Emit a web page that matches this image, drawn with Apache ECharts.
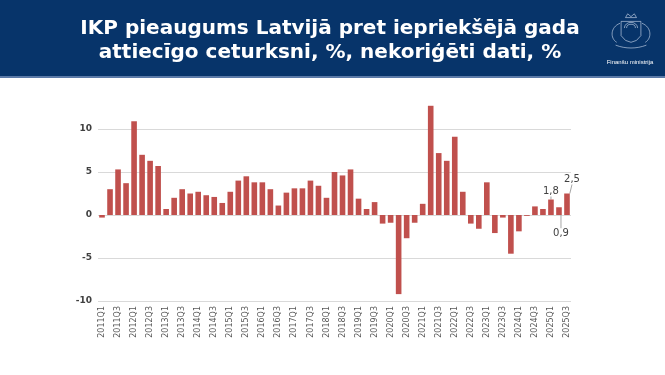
<!DOCTYPE html>
<html>
<head>
<meta charset="utf-8">
<script src="https://cdn.jsdelivr.net/npm/echarts@6/dist/echarts.min.js"></script>
<style>
html,body{margin:0;padding:0;background:#fff;}
#c{width:665px;height:375px;}
</style>
</head>
<body>
<div id="c"></div>
<script>
var titleLines = ['IKP pieaugums Latvijā pret iepriekšējā gada', 'attiecīgo ceturksni, %, nekoriģēti dati, %'];
var logoText = 'Finanšu ministrija';

var categories = [
 '2011Q1','2011Q2','2011Q3','2011Q4','2012Q1','2012Q2','2012Q3','2012Q4',
 '2013Q1','2013Q2','2013Q3','2013Q4','2014Q1','2014Q2','2014Q3','2014Q4',
 '2015Q1','2015Q2','2015Q3','2015Q4','2016Q1','2016Q2','2016Q3','2016Q4',
 '2017Q1','2017Q2','2017Q3','2017Q4','2018Q1','2018Q2','2018Q3','2018Q4',
 '2019Q1','2019Q2','2019Q3','2019Q4','2020Q1','2020Q2','2020Q3','2020Q4',
 '2021Q1','2021Q2','2021Q3','2021Q4','2022Q1','2022Q2','2022Q3','2022Q4',
 '2023Q1','2023Q2','2023Q3','2023Q4','2024Q1','2024Q2','2024Q3','2024Q4',
 '2025Q1','2025Q2','2025Q3'
];

var growth = [
 -0.3, 3.0, 5.3, 3.7, 10.9, 7.0, 6.3, 5.7,
 0.7, 2.0, 3.0, 2.5, 2.7, 2.3, 2.1, 1.4,
 2.7, 4.0, 4.5, 3.8, 3.8, 3.0, 1.1, 2.6,
 3.1, 3.1, 4.0, 3.4, 2.0, 5.0, 4.6, 5.3,
 1.9, 0.7, 1.5, -1.0, -0.9, -9.2, -2.7, -0.9,
 1.3, 12.7, 7.2, 6.3, 9.1, 2.7, -1.0, -1.6,
 3.8, -2.1, -0.3, -4.5, -1.9, -0.1, 1.0, 0.7,
 1.8, 0.9, 2.5
];

var labelledIdx = [56, 57, 58];
var yTicks = [-10, -5, 0, 5, 10];

var labelMoves = {56: [0, 0], 57: [2, 34], 58: [5, -6]};

var barData = growth.map(function (v, i) {
  var d = {value: v};
  if (labelledIdx.indexOf(i) >= 0) {
    d.label = {show: true, position: 'top'};
  }
  return d;
});

var chart = echarts.init(document.getElementById('c'), null, {renderer: 'canvas'});

var logoStroke = 'rgba(210,222,240,0.75)';

var option = {
  animation: false,
  backgroundColor: '#ffffff',
  grid: {left: 98, right: 94, top: 86, bottom: 74, containLabel: false},
  xAxis: {
    type: 'category',
    data: categories,
    axisLine: {show: false, onZero: false},
    axisTick: {show: false},
    axisLabel: {
      interval: 1,
      rotate: 90,
      margin: 5,
      fontSize: 8,
      fontFamily: 'DejaVu Sans',
      color: '#595959'
    }
  },
  yAxis: {
    type: 'value',
    min: -10,
    max: 15,
    interval: 5,
    axisLine: {show: false},
    axisTick: {show: false},
    axisLabel: {
      margin: 6,
      fontSize: 9,
      fontWeight: 'bold',
      fontFamily: 'DejaVu Sans',
      color: '#404040',
      formatter: function (v) { return yTicks.indexOf(v) >= 0 ? String(v) : ''; }
    },
    splitLine: {
      lineStyle: {
        color: ['#d9d9d9', '#d9d9d9', '#d9d9d9', '#d9d9d9', '#d9d9d9', 'rgba(0,0,0,0)'],
        width: 1
      }
    }
  },
  series: [{
    type: 'bar',
    data: barData,
    barCategoryGap: '30%',
    itemStyle: {color: '#c0504d'},
    label: {
      show: false,
      fontSize: 10,
      fontFamily: 'DejaVu Sans',
      color: '#404040',
      distance: 3,
      formatter: function (p) { return Number(p.value).toFixed(1).replace('.', ','); }
    },
    labelLine: {show: true, lineStyle: {color: '#a6a6a6', width: 1}},
    labelLayout: function (params) {
      var m = labelMoves[params.dataIndex];
      if (!m) return {};
      return {dx: m[0], dy: m[1]};
    }
  }],
  graphic: [
    {type: 'rect', shape: {x: 0, y: 0, width: 665, height: 77}, style: {fill: '#07346a'}, z: 0},
    {type: 'rect', shape: {x: 0, y: 76, width: 665, height: 2}, style: {fill: '#5b7aa8'}, z: 0},
    {type: 'text', x: 330, y: 29, style: {text: titleLines[0], fill: '#ffffff', font: 'bold 20px "DejaVu Sans"', textAlign: 'center', textVerticalAlign: 'middle'}, z: 2},
    {type: 'text', x: 330, y: 53, style: {text: titleLines[1], fill: '#ffffff', font: 'bold 20px "DejaVu Sans"', textAlign: 'center', textVerticalAlign: 'middle'}, z: 2},
    {type: 'text', x: 630, y: 62, style: {text: logoText, fill: '#ffffff', font: '6px "Liberation Sans"', textAlign: 'center', textVerticalAlign: 'middle'}, z: 2},
    {type: 'group', x: 631, y: 29, scaleX: 1.1, scaleY: 0.95, z: 2, children: [
      {type: 'polyline', shape: {points: [[-9, -8], [-9, 7], [-5, 12], [0, 14], [5, 12], [9, 7], [9, -8], [-9, -8]]}, style: {fill: 'none', stroke: logoStroke, lineWidth: 0.8}},
      {type: 'arc', shape: {cx: 0, cy: -1, r: 6, startAngle: Math.PI, endAngle: 2 * Math.PI}, style: {stroke: logoStroke, lineWidth: 0.8}},
      {type: 'arc', shape: {cx: 0, cy: -1, r: 4, startAngle: Math.PI, endAngle: 2 * Math.PI}, style: {stroke: logoStroke, lineWidth: 0.8}},
      {type: 'polyline', shape: {points: [[-5, -12], [-3, -16], [0, -13], [3, -16], [5, -12], [-5, -12]]}, style: {fill: 'none', stroke: logoStroke, lineWidth: 0.8}},
      {type: 'bezierCurve', shape: {x1: -10, y1: -6, x2: -13, y2: 14, cpx1: -19, cpy1: -2, cpx2: -19, cpy2: 10}, style: {fill: 'none', stroke: logoStroke, lineWidth: 0.8}},
      {type: 'bezierCurve', shape: {x1: 10, y1: -6, x2: 13, y2: 14, cpx1: 19, cpy1: -2, cpx2: 19, cpy2: 10}, style: {fill: 'none', stroke: logoStroke, lineWidth: 0.8}},
      {type: 'bezierCurve', shape: {x1: -14, y1: 17, x2: 14, y2: 17, cpx1: -5, cpy1: 21, cpx2: 5, cpy2: 21}, style: {fill: 'none', stroke: logoStroke, lineWidth: 0.8}}
    ]}
  ]
};
chart.setOption(option);
</script>
</body>
</html>
